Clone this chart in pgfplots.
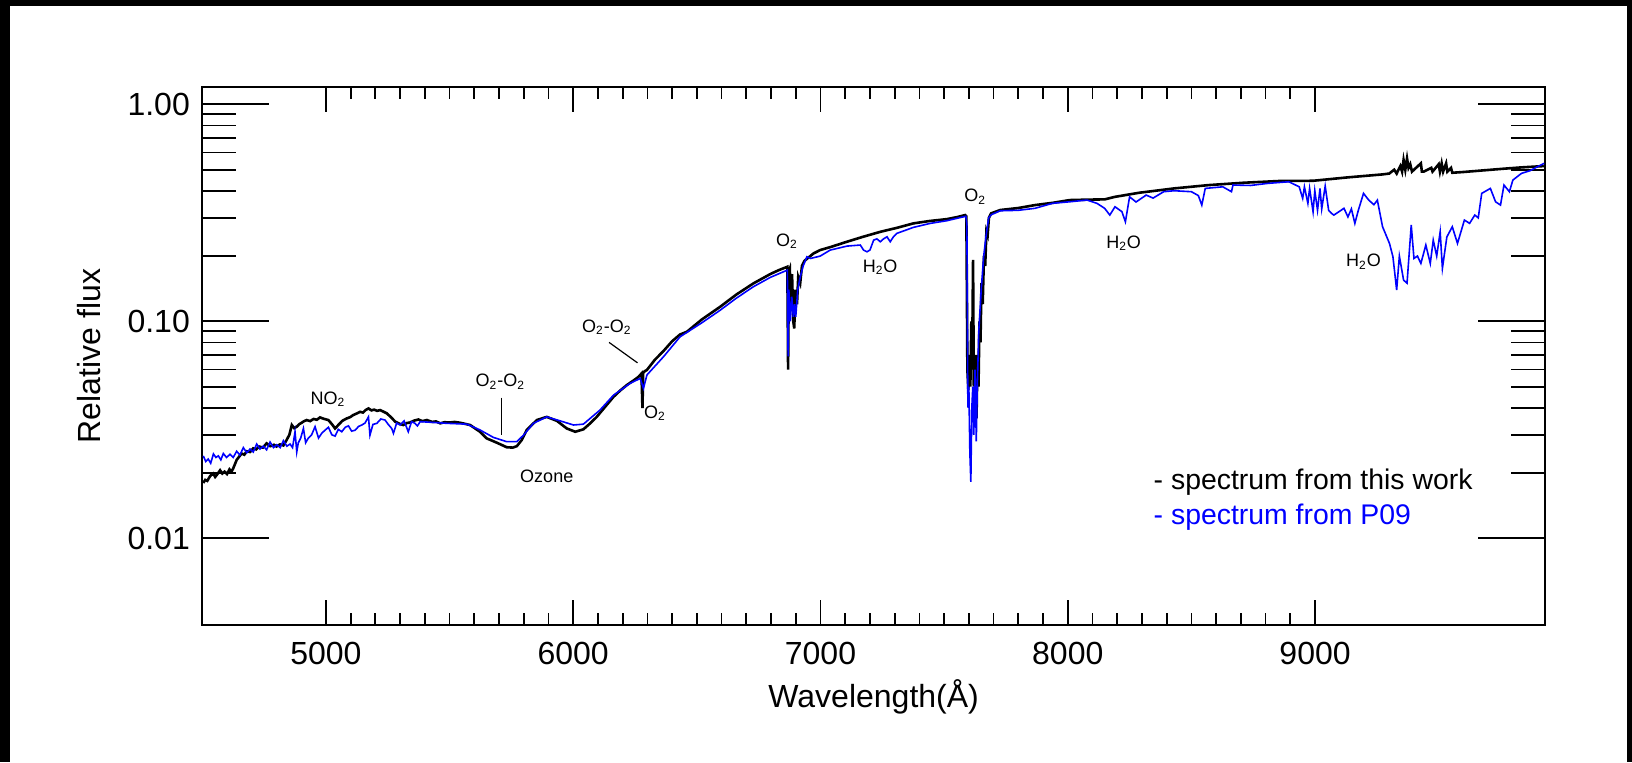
\documentclass[border=0pt]{standalone}
\usepackage{fontspec}
\setmainfont{Liberation Sans}
\usepackage{pgfplots}
\pgfplotsset{compat=1.18}
\begin{document}
\begin{tikzpicture}[x=0.5pt,y=0.5pt]
\fill[black] (0,0) rectangle (1632,762);
\fill[white] (10,0) rectangle (1627,756);
\begin{axis}[
  at={(101.15pt,68.65pt)}, anchor=south west,
  width=671.35pt, height=268.75pt, scale only axis,
  xmin=4500, xmax=9930, ymode=log, ymin=0.004, ymax=1.2,
  xtick={5000,6000,7000,8000,9000}, xticklabels={5000,6000,7000,8000,9000},
  minor x tick num=9,
  ytick={0.01,0.1,1}, yticklabels={0.01,0.10,1.00},
  tick align=inside,
  axis line style={line width=1pt},
  tick style={black, line width=0.9pt},
  xtick style={/pgfplots/major tick length=12.5pt,/pgfplots/minor tick length=6pt},
  ytick style={/pgfplots/major tick length=33.5pt,/pgfplots/minor tick length=17pt},
  tick label style={font=\fontsize{16}{18}\selectfont},
  xticklabel style={yshift=-5pt},
  yticklabel style={xshift=-2.7pt},
  xlabel={Wavelength(Å)}, ylabel={Relative flux},
  label style={font=\fontsize{16}{18}\selectfont},
  xlabel style={at={(axis description cs:0.5,0)}, anchor=base, yshift=-41.5pt},
  ylabel style={at={(axis description cs:-0.0844,0.5)}, anchor=center},
]
% spectrum from this work
\addplot[black, line width=1.3pt] coordinates {
(4504,0.0180) (4512,0.0186) (4520,0.0184) (4532,0.0194) (4544,0.0199) (4552,0.0192)
(4560,0.0197) (4572,0.0206) (4581,0.0199) (4590,0.0203) (4600,0.0198) (4610,0.0208)
(4618,0.0203) (4625,0.0210) (4639,0.0230) (4659,0.0246) (4670,0.0243) (4680,0.0252)
(4693,0.0250) (4706,0.0260) (4718,0.0257) (4730,0.0265) (4745,0.0262) (4760,0.0274)
(4775,0.0266) (4790,0.0270) (4800,0.0265) (4814,0.0271) (4828,0.0268) (4841,0.0284)
(4852,0.0300) (4862,0.0333) (4872,0.0322) (4882,0.0327) (4892,0.0336) (4900,0.0340)
(4910,0.0346) (4922,0.0351) (4936,0.0347) (4950,0.0355) (4963,0.0352) (4976,0.0361)
(4990,0.0356) (5010,0.0351) (5025,0.0335) (5037,0.0321) (5050,0.0333) (5066,0.0348)
(5084,0.0357) (5098,0.0362) (5110,0.0370) (5124,0.0376) (5138,0.0383) (5150,0.0380)
(5160,0.0390) (5172,0.0397) (5184,0.0389) (5195,0.0392) (5207,0.0387) (5219,0.0390)
(5232,0.0384) (5246,0.0377) (5265,0.0360) (5280,0.0345) (5296,0.0338) (5313,0.0333)
(5327,0.0340) (5340,0.0342) (5357,0.0349) (5374,0.0353) (5390,0.0347) (5408,0.0351)
(5430,0.0344) (5445,0.0346) (5462,0.0339) (5480,0.0343) (5500,0.0342) (5520,0.0344)
(5543,0.0341) (5583,0.0333) (5623,0.0310) (5650,0.0289)
(5691,0.0276) (5731,0.0263) (5755,0.0262) (5772,0.0266) (5792,0.0284) (5812,0.0316)
(5853,0.0351) (5893,0.0363) (5934,0.0348) (5974,0.0321) (6008,0.0310) (6041,0.0318)
(6070,0.0340) (6095,0.0363) (6130,0.0405) (6163,0.0449) (6190,0.0480) (6217,0.0509)
(6245,0.0535) (6264,0.0555) (6276,0.0575) (6280,0.0399) (6283,0.0580) (6290,0.0590)
(6298,0.0597) (6330,0.0665) (6365,0.0730) (6400,0.0810) (6432,0.0870) (6460,0.0896)
(6520,0.1020) (6594,0.1167) (6660,0.1330) (6729,0.1497) (6797,0.1652) (6830,0.1720)
(6866,0.1785) (6869,0.0600) (6872,0.1700) (6876,0.1750) (6880,0.1200) (6885,0.1650)
(6890,0.1000) (6894,0.0928) (6898,0.1400) (6905,0.1200) (6910,0.1600) (6918,0.1500)
(6925,0.1800) (6935,0.1900) (6972,0.2057) (6999,0.2132) (7040,0.2200) (7107,0.2328)
(7170,0.2450) (7242,0.2587) (7310,0.2700) (7376,0.2829) (7440,0.2900) (7511,0.2960)
(7550,0.3020) (7585,0.3090) (7590,0.3050) (7594,0.0600) (7598,0.0482) (7602,0.0700)
(7606,0.0500) (7610,0.1000) (7613,0.0600) (7617,0.1920) (7620,0.0500) (7623,0.0700)
(7627,0.0450) (7631,0.0357) (7635,0.0700) (7639,0.0500) (7643,0.1000) (7647,0.0800)
(7651,0.1500) (7656,0.1200) (7661,0.2000) (7666,0.1800) (7671,0.2600) (7676,0.2500)
(7681,0.3000) (7690,0.3146) (7727,0.3260) (7800,0.3330) (7868,0.3436) (7940,0.3520)
(8008,0.3623) (8080,0.3640) (8149,0.3650) (8191,0.3750) (8289,0.3916) (8430,0.4100)
(8570,0.4247) (8711,0.4354) (8852,0.4434) (8992,0.4446) (9133,0.4610) (9273,0.4757)
(9300,0.4800) (9320,0.5000) (9330,0.4800) (9345,0.5200) (9352,0.4900) (9358,0.5540)
(9365,0.5000) (9372,0.5636) (9378,0.5100) (9385,0.5300) (9392,0.4900) (9428,0.5350)
(9432,0.4900) (9440,0.4900) (9470,0.5100) (9475,0.4900) (9500,0.5300) (9505,0.4900)
(9512,0.5350) (9518,0.4900) (9530,0.5350) (9535,0.4900) (9550,0.5100) (9555,0.4840)
(9600,0.4880) (9695,0.4980) (9760,0.5050) (9836,0.5126) (9925,0.5196)
};
% spectrum from P09
\addplot[blue, line width=0.8pt] coordinates {
(4504,0.0240) (4514,0.0226) (4524,0.0232) (4534,0.0222) (4545,0.0245) (4555,0.0236)
(4565,0.0240) (4575,0.0230) (4585,0.0246) (4598,0.0236) (4612,0.0244) (4625,0.0236)
(4639,0.0252) (4652,0.0242) (4666,0.0262) (4680,0.0248) (4693,0.0258) (4706,0.0250)
(4720,0.0272) (4733,0.0258) (4747,0.0266) (4760,0.0256) (4774,0.0278) (4788,0.0262)
(4801,0.0270) (4815,0.0262) (4828,0.0282) (4842,0.0266) (4855,0.0272) (4865,0.0262)
(4875,0.0310) (4882,0.0250) (4888,0.0275) (4898,0.0290) (4909,0.0321) (4918,0.0276)
(4929,0.0290) (4942,0.0300) (4956,0.0327) (4970,0.0290) (4983,0.0305) (4996,0.0315)
(5010,0.0325) (5024,0.0300) (5037,0.0296) (5050,0.0318) (5064,0.0310) (5078,0.0325)
(5091,0.0330) (5104,0.0312) (5118,0.0315) (5132,0.0328) (5145,0.0333) (5158,0.0340)
(5172,0.0363) (5178,0.0299) (5190,0.0335) (5206,0.0339) (5222,0.0355) (5239,0.0351)
(5252,0.0335) (5266,0.0321) (5273,0.0305) (5286,0.0340) (5300,0.0333) (5316,0.0348)
(5333,0.0310) (5346,0.0345) (5360,0.0339) (5370,0.0330) (5381,0.0345)
(5420,0.0343) (5489,0.0339) (5570,0.0336) (5623,0.0316) (5677,0.0292)
(5731,0.0279) (5772,0.0279) (5799,0.0299) (5839,0.0339) (5893,0.0363) (5947,0.0348)
(6001,0.0333) (6041,0.0336) (6108,0.0390) (6163,0.0457) (6230,0.0518) (6271,0.0546)
(6284,0.0491) (6298,0.0566) (6365,0.0687) (6432,0.0849) (6520,0.0985) (6594,0.1125)
(6660,0.1280) (6729,0.1445) (6797,0.1595) (6866,0.1723) (6869,0.0690) (6872,0.1400)
(6878,0.1000) (6884,0.1300) (6890,0.1050) (6895,0.1200) (6900,0.1050) (6908,0.1400)
(6918,0.1600) (6930,0.1800) (6945,0.1985) (6960,0.1950) (6999,0.2000) (7039,0.2130)
(7107,0.2223) (7161,0.2248) (7174,0.2132) (7188,0.2093) (7200,0.2132) (7215,0.2369)
(7228,0.2400) (7242,0.2328) (7255,0.2400) (7269,0.2453) (7282,0.2328) (7295,0.2453)
(7309,0.2545) (7376,0.2712) (7444,0.2829) (7511,0.2910) (7560,0.3000) (7588,0.3050)
(7592,0.2800) (7596,0.0400) (7600,0.0500) (7604,0.0250) (7608,0.0182) (7612,0.0400)
(7616,0.0500) (7620,0.0300) (7625,0.0600) (7630,0.0280) (7634,0.0500) (7640,0.0900)
(7650,0.1400) (7660,0.2000) (7670,0.2500) (7680,0.3000) (7690,0.3100) (7727,0.3234)
(7800,0.3250) (7868,0.3320) (7938,0.3500) (8008,0.3558) (8078,0.3623) (8118,0.3500)
(8149,0.3320) (8170,0.3090) (8191,0.3375) (8219,0.3203) (8233,0.2877) (8250,0.3750)
(8276,0.3550) (8317,0.3820) (8345,0.3700) (8388,0.3960) (8430,0.4000) (8500,0.3960)
(8528,0.3800) (8542,0.3436) (8556,0.4100) (8627,0.4170) (8662,0.3960) (8668,0.4250)
(8739,0.4230) (8809,0.4325) (8894,0.4400) (8936,0.4170) (8950,0.3690) (8957,0.4170)
(8971,0.3500) (8978,0.4100) (8992,0.3200) (8999,0.4000) (9010,0.3250) (9020,0.4100)
(9027,0.3300) (9041,0.4200) (9055,0.3250) (9066,0.3150) (9076,0.3090) (9117,0.3320)
(9133,0.3030) (9147,0.3300) (9161,0.2830) (9175,0.3250) (9196,0.3890) (9217,0.3623)
(9238,0.3450) (9252,0.3620) (9273,0.2730) (9301,0.2287) (9315,0.1985) (9330,0.1394)
(9341,0.2000) (9358,0.1550) (9372,0.1500) (9389,0.2780) (9400,0.1950) (9414,0.2000)
(9428,0.1850) (9448,0.2248) (9466,0.1850) (9478,0.2370) (9492,0.2000) (9506,0.2588)
(9515,0.1755) (9533,0.2450) (9555,0.2730) (9576,0.2287) (9604,0.2930) (9625,0.2830)
(9646,0.3090) (9660,0.3000) (9674,0.3890) (9709,0.4100) (9730,0.3558) (9750,0.3436)
(9764,0.4247) (9786,0.3960) (9800,0.4480) (9835,0.4810) (9870,0.4950) (9899,0.5160)
(9927,0.5350)
};
% annotations
\begin{scope}[every node/.style={font=\fontsize{9}{10}\selectfont, inner sep=0pt}]
\node at (axis cs:5008,0.0436) {NO\textsubscript{2}};
\node at (axis cs:5705,0.0527) {O\textsubscript{2}-O\textsubscript{2}};
\draw[line width=0.6pt] (axis cs:5711,0.0445) -- (axis cs:5711,0.0299);
\node at (axis cs:5893,0.0194) {Ozone};
\node at (axis cs:6136,0.0944) {O\textsubscript{2}-O\textsubscript{2}};
\draw[line width=0.6pt] (axis cs:6145,0.080) -- (axis cs:6260,0.0644);
\node at (axis cs:6331,0.0377) {O\textsubscript{2}};
\node at (axis cs:6864,0.2344) {O\textsubscript{2}};
\node at (axis cs:7241,0.1773) {H\textsubscript{2}O};
\node at (axis cs:7626,0.3752) {O\textsubscript{2}};
\node at (axis cs:8226,0.229) {H\textsubscript{2}O};
\node at (axis cs:9196,0.1882) {H\textsubscript{2}O};
\end{scope}
\node[anchor=west, inner sep=0pt, font=\fontsize{14.2}{16}\selectfont] at (axis cs:8346,0.01823) {- spectrum from this work};
\node[anchor=west, inner sep=0pt, text=blue, font=\fontsize{14.2}{16}\selectfont] at (axis cs:8346,0.0125) {- spectrum from P09};
\end{axis}
\pgfresetboundingbox
\useasboundingbox (0,0) rectangle (1632,762);
\end{tikzpicture}
\end{document}
